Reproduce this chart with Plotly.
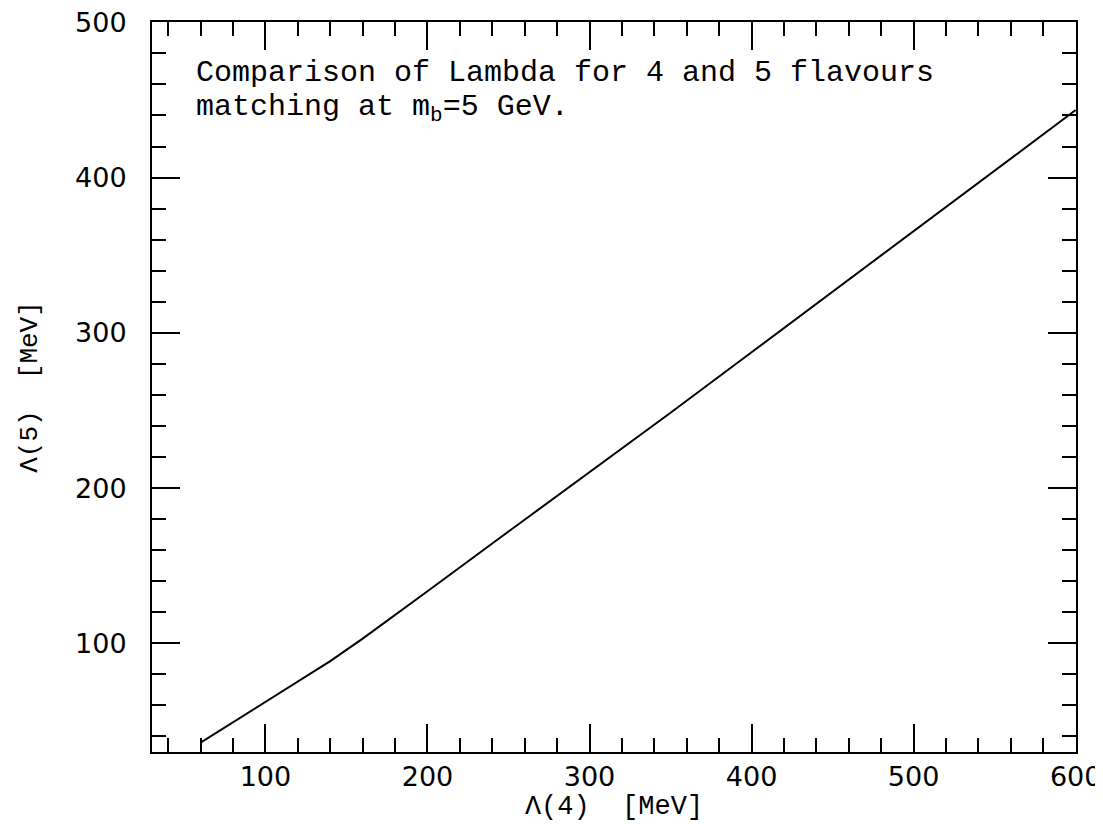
import plotly.graph_objects as go

# Data
lambda4 = [60, 80, 100, 120, 140, 160, 180, 200, 250, 300, 350, 400, 450, 500, 550, 600]
lambda5 = [36, 49, 62.5, 75.5, 88.5, 103, 118, 133.5, 172, 210, 248.5, 287.5, 326.5, 365.5, 404.5, 443.5]

x_ticks = [100, 200, 300, 400, 500, 600]
y_ticks = [100, 200, 300, 400, 500]

note_line1 = "Comparison of Lambda for 4 and 5 flavours"
note_line2 = "matching at m<sub>b</sub>=5 GeV."
x_title = "Λ(4)&nbsp;&nbsp;[MeV]"
y_title = "Λ(5)&nbsp;&nbsp;[MeV]"

serif = "Liberation Mono"
sans = "DejaVu Sans"

fig = go.Figure()
fig.add_trace(go.Scatter(x=lambda4, y=lambda5, mode="lines",
                         line=dict(color="black", width=2), showlegend=False,
                         hoverinfo="skip"))

axis_common = dict(
    showline=True, linecolor="black", linewidth=2, mirror="allticks",
    ticks="inside", ticklen=28, tickwidth=2, tickcolor="black",
    showgrid=False, zeroline=False, ticklabeloverflow="allow", automargin=False,
    tickfont=dict(family=sans, size=27, color="black"),
    minor=dict(ticks="inside", ticklen=14, tickwidth=2, tickcolor="black",
               dtick=20, tick0=0, showgrid=False),
)

fig.update_xaxes(range=[30, 600.2], tickvals=x_ticks, ticktext=[str(v) for v in x_ticks],
                 title=dict(text=x_title, font=dict(family=serif, size=27, color="black"),
                            standoff=0),
                 ticklabelstandoff=0, **axis_common)
fig.update_yaxes(range=[30, 500.2], tickvals=y_ticks, ticktext=[str(v) for v in y_ticks],
                 title=dict(text=y_title, font=dict(family=serif, size=26, color="black"),
                            standoff=30),
                 ticklabelstandoff=18, **axis_common)

fig.add_annotation(text=note_line1, xref="paper", yref="paper", x=0.045, y=0.93,
                   xanchor="left", yanchor="middle", showarrow=False,
                   font=dict(family=serif, size=30, color="black"))
fig.add_annotation(text=note_line2, xref="paper", yref="paper", x=0.045, y=0.881,
                   xanchor="left", yanchor="middle", showarrow=False,
                   font=dict(family=serif, size=30, color="black"))

fig.update_layout(
    width=1103, height=824,
    margin=dict(l=144, r=35, t=14, b=80),
    paper_bgcolor="white", plot_bgcolor="white",
)

fig.write_html("out.html")
